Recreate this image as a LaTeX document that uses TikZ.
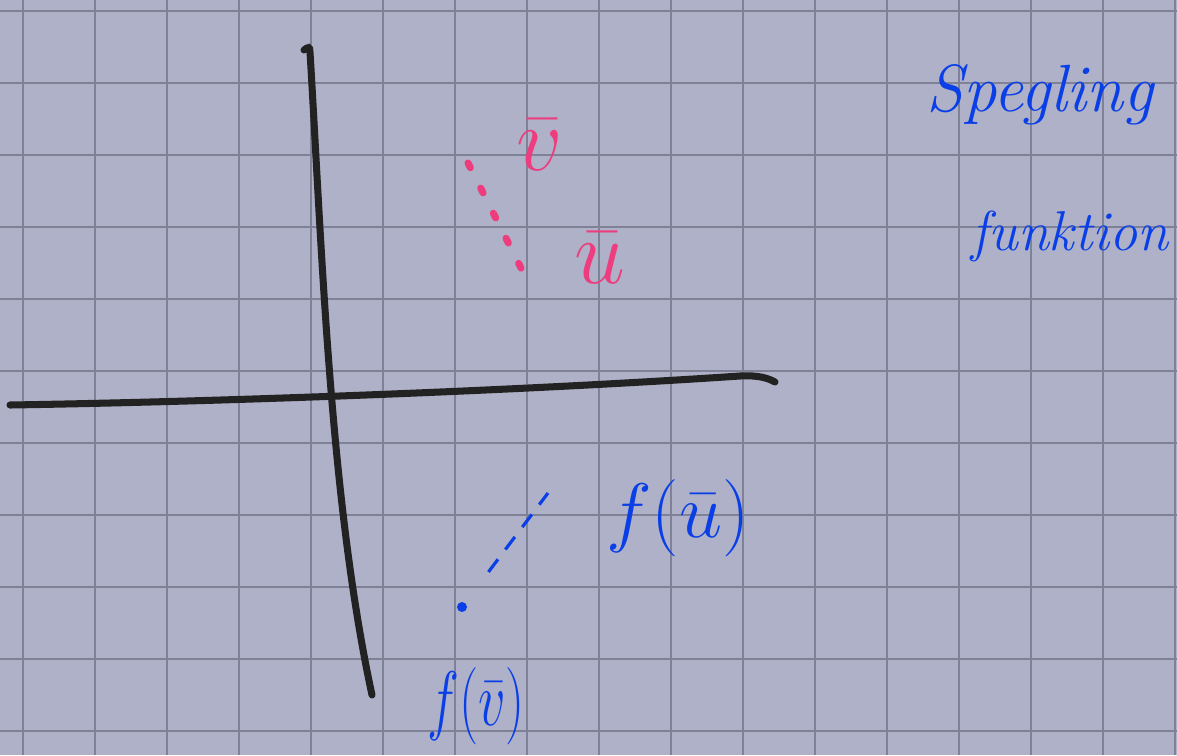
\documentclass[tikz,border=0pt]{standalone}
\usepackage{fix-cm}
\usetikzlibrary{positioning}
\definecolor{paper}{HTML}{AEB1C7}
\definecolor{gridline}{HTML}{7F8297}
\definecolor{inkblue}{HTML}{0A3FE8}
\definecolor{inkpink}{HTML}{EE3D7E}
\definecolor{inkblack}{HTML}{222222}

\begin{document}
\begin{tikzpicture}[x=0.02cm,y=-0.02cm,
  gridstroke/.style={gridline, line width=1.5pt},
  axisstroke/.style={inkblack, line width=4pt, line cap=round},
  pinklabel/.style={inkpink, font=\fontsize{52}{52}\selectfont},
  bluelabel/.style={inkblue, font=\fontsize{44}{44}\selectfont},
  notelabel/.style={inkblue, font=\itshape\fontsize{38}{38}\selectfont}]
% paper and grid
\fill[paper] (0,0) rectangle (1177,755);
\useasboundingbox (0,0) rectangle (1177,755);
\foreach \x in {0,...,16} {
    \draw[gridstroke] (23+72*\x,0) -- (23+72*\x,755);
}
\foreach \y in {0,...,10} {
    \draw[gridstroke] (0,11+72*\y) -- (1177,11+72*\y);
}

% axes
\draw[axisstroke] (10,405) .. controls (200,402) and (500,392) .. (740,376)
    .. controls (758,375) and (768,378) .. (775,382);
\draw[axisstroke] (304,50) .. controls (308,47) and (310,46) .. (310,52)
    .. controls (322,250) and (330,500) .. (372,695);

% original points
\node[pinklabel] (vbar) at (540,145) {$\bar v$};
\node[pinklabel] (ubar) at (600,258) {$\bar u$};
\coordinate (vpt) at (468,163);
\coordinate (upt) at (524,274);
\draw[inkpink, line width=4pt, line cap=round, dash pattern=on 3pt off 13pt] (vpt) -- (upt);

% mirrored points
\node[bluelabel] (fu) at (678,518) {$f(\bar u)$};
\node[bluelabel, xscale=0.7] (fv) at (476,706) {$f(\bar v)$};
\coordinate (fvpt) at (462,607);
\coordinate (fupt) at (548,493);
\fill[inkblue] (fvpt) circle (5);
\draw[inkblue, line width=1.8pt, dash pattern=on 9pt off 7pt, shorten <=25pt] (fvpt) -- (fupt);

% note
\node[notelabel] (note1) at (1040,95) {Spegling};
\node[notelabel, font=\itshape\fontsize{32}{32}\selectfont] (note2) at (1070,236) {funktion};
\end{tikzpicture}
\end{document}
